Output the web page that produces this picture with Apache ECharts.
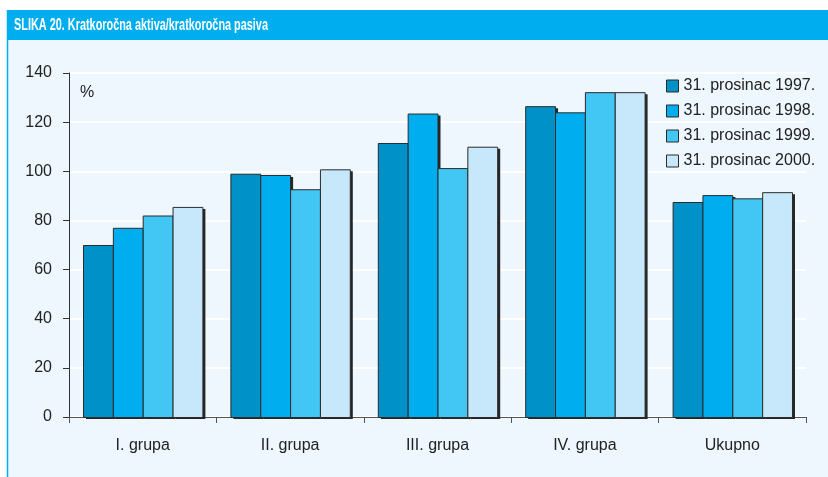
<!DOCTYPE html>
<html>
<head>
<meta charset="utf-8">
<script src="https://cdn.jsdelivr.net/npm/echarts@6/dist/echarts.min.js"></script>
<style>
  html, body { margin: 0; padding: 0; background: #fff; }
  #chart { width: 828px; height: 477px; }
</style>
</head>
<body>
<div id="chart"></div>
<script>
// categories and series values
const categories = ["I. grupa", "II. grupa", "III. grupa", "IV. grupa", "Ukupno"];
const seriesNames = ["31. prosinac 1997.", "31. prosinac 1998.", "31. prosinac 1999.", "31. prosinac 2000."];
const v1997 = [70, 99, 111.5, 126.5, 87.5];
const v1998 = [77, 98.5, 123.5, 124, 90.3];
const v1999 = [82, 92.7, 101.3, 132.2, 89];
const v2000 = [85.5, 100.8, 110, 132.2, 91.5];
const yTicks = [0, 20, 40, 60, 80, 100, 120, 140];

const colors = ["#0091c8", "#00aeef", "#42c6f3", "#c6e8fa"];
const font = "'Liberation Sans', Arial, sans-serif";
const groupShare = 0.81; // part of the category band taken by the 4 bars

const chart = echarts.init(document.getElementById("chart"));

// bar with a hard dark shadow on the right / bottom, like the print original
const makeSeries = (name, data, color, idx) => ({
  name,
  type: "custom",
  data: data.map((v, i) => [i, v]),
  encode: { x: 0, y: 1 },
  itemStyle: { color, borderColor: "#2b2b2b", borderWidth: 1 },
  renderItem: (params, api) => {
    const base = api.coord([api.value(0), 0]);
    const top = api.coord([api.value(0), api.value(1)]);
    const band = api.size([1, 0])[0];
    const barW = (band * groupShare) / 4;
    const x = base[0] - (band * groupShare) / 2 + idx * barW;
    const h = base[1] - top[1];
    return {
      type: "group",
      children: [
        {
          type: "rect",
          shape: { x: x + 3, y: top[1] + 2, width: barW, height: h },
          style: { fill: "#262626" },
        },
        {
          type: "rect",
          shape: { x: x + 0.5, y: top[1] + 0.5, width: barW, height: h },
          style: { fill: color, stroke: "#2b2b2b", lineWidth: 1 },
        },
      ],
    };
  },
});

chart.setOption({
  animation: false,
  backgroundColor: "#ffffff",
  graphic: [
    // panel
    {
      type: "rect",
      z: -10,
      shape: { x: 7, y: 10, width: 821, height: 467 },
      style: { fill: "#edf7fd" },
    },
    {
      type: "line",
      z: -9,
      shape: { x1: 7.5, y1: 10, x2: 7.5, y2: 477 },
      style: { stroke: "#00aeef", lineWidth: 1.5 },
    },
    // title bar
    {
      type: "rect",
      z: -8,
      shape: { x: 7, y: 10, width: 821, height: 30 },
      style: { fill: "#00aeef" },
    },
    {
      type: "text",
      z: 10,
      x: 14,
      y: 17,
      scaleX: 0.64,
      scaleY: 1,
      style: {
        text: "SLIKA 20. Kratkoročna aktiva/kratkoročna pasiva",
        fill: "#ffffff",
        font: "bold 17px " + font,
      },
    },
    {
      type: "text",
      z: 10,
      left: 80,
      top: 85,
      style: { text: "%", fill: "#222", font: "16px " + font },
    },
  ],
  legend: {
    orient: "vertical",
    left: 661,
    top: 73,
    itemWidth: 12,
    itemHeight: 12,
    itemGap: 9,
    icon: "rect",
    data: seriesNames,
    itemStyle: { borderColor: "#2b2b2b", borderWidth: 1 },
    textStyle: { color: "#222", fontSize: 16, fontFamily: font },
  },
  grid: { left: 69, right: 22, top: 73, bottom: 60 },
  xAxis: {
    type: "category",
    data: categories,
    axisLine: { lineStyle: { color: "#555", width: 1 } },
    axisTick: { show: true, length: 6, lineStyle: { color: "#555" } },
    axisLabel: { color: "#222", fontSize: 16, fontFamily: font, margin: 21 },
  },
  yAxis: {
    type: "value",
    min: yTicks[0],
    max: yTicks[yTicks.length - 1],
    interval: 20,
    axisLine: { show: true, lineStyle: { color: "#333" } },
    axisTick: { show: true, length: 6, lineStyle: { color: "#333" } },
    axisLabel: { color: "#222", fontSize: 16, fontFamily: font, margin: 17 },
    splitLine: { lineStyle: { color: "#ffffff", width: 2 } },
  },
  series: [
    makeSeries(seriesNames[0], v1997, colors[0], 0),
    makeSeries(seriesNames[1], v1998, colors[1], 1),
    makeSeries(seriesNames[2], v1999, colors[2], 2),
    makeSeries(seriesNames[3], v2000, colors[3], 3),
  ],
});
</script>
</body>
</html>
